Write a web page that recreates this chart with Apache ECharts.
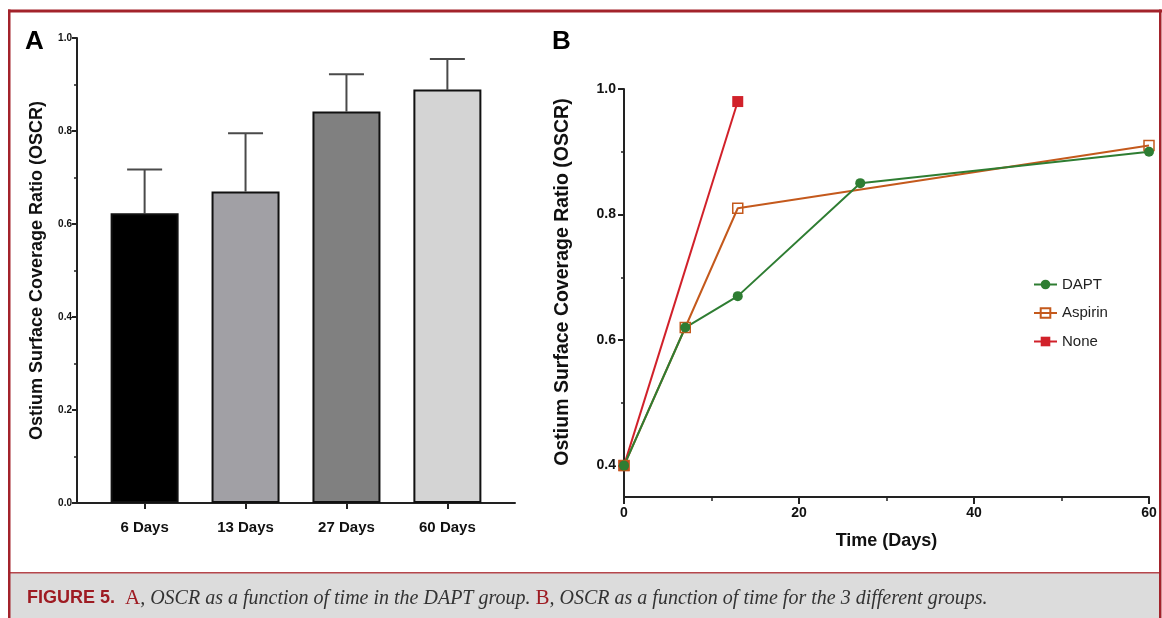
<!DOCTYPE html>
<html><head><meta charset="utf-8">
<script src="https://cdn.jsdelivr.net/npm/echarts@6/dist/echarts.min.js"></script>
<style>html,body{margin:0;padding:0;background:#fff}#c{width:1162px;height:618px}</style>
</head><body><div id="c"></div>
<script>
// ---- Panel A data ----
const categoriesA = ['6 Days', '13 Days', '27 Days', '60 Days'];
const meanA = [0.623, 0.670, 0.842, 0.889];
const upperA = [0.717, 0.795, 0.922, 0.955];
const barColorsA = ['#000000', '#a1a0a5', '#808080', '#d4d4d4'];
// ---- Panel B data ----
const daysDAPT = [0, 7, 13, 27, 60];
const oscrDAPT = [0.40, 0.62, 0.67, 0.85, 0.90];
const daysAspirin = [0, 7, 13, 60];
const oscrAspirin = [0.40, 0.62, 0.81, 0.91];
const daysNone = [0, 13];
const oscrNone = [0.40, 0.98];
const yLabelsB = [0.4, 0.6, 0.8, 1.0];
const yMinorB = [0.5, 0.7, 0.9];
const yNameText = 'Ostium Surface Coverage Ratio (OSCR)';
const captionParts = ['FIGURE 5.', 'A', ', OSCR as a function of time in the DAPT group. ', 'B', ', OSCR as a function of time for the 3 different groups.'];

const FONT = "'Liberation Sans', Arial, sans-serif";
const pairs = (xs, ys) => xs.map((x, i) => [x, ys[i]]);

const chart = echarts.init(document.getElementById('c'), null, {renderer: 'canvas'});
const axisLine = {show: true, onZero: false, lineStyle: {color: '#222', width: 2}};
const option = {
  animation: false,
  backgroundColor: '#fff',
  title: {
    text: '{f|' + captionParts[0] + '}  {r|' + captionParts[1] + '}{i|' + captionParts[2] + '}{r|' + captionParts[3] + '}{i|' + captionParts[4] + '}',
    left: 22, top: 583,
    textStyle: {
      fontWeight: 'normal',
      rich: {
        f: {fontFamily: FONT, fontWeight: 'bold', fontSize: 18, color: '#9e1b22'},
        r: {fontFamily: "'Liberation Serif', serif", fontWeight: 'normal', fontSize: 21, color: '#9e1b22'},
        i: {fontFamily: "'Liberation Serif', serif", fontWeight: 'normal', fontStyle: 'italic', fontSize: 20, color: '#333'}
      }
    }
  },
  graphic: [
    {type: 'rect', shape: {x: 10, y: 573, width: 1150, height: 45}, style: {fill: '#dcdcdc'}, z: -10},
    {type: 'rect', shape: {x: 10, y: 572, width: 1150, height: 1.5}, style: {fill: '#b5474c'}, z: -5},
    {type: 'rect', shape: {x: 8, y: 9.5, width: 1154, height: 3}, style: {fill: '#a3232b'}, z: -5},
    {type: 'rect', shape: {x: 8, y: 9.5, width: 2.5, height: 609}, style: {fill: '#a3232b'}, z: -5},
    {type: 'rect', shape: {x: 1159, y: 9.5, width: 2.5, height: 609}, style: {fill: '#a3232b'}, z: -5},
    {type: 'text', left: 25, top: 29, style: {text: 'A', font: "bold 26px 'Liberation Sans', Arial", fill: '#000'}},
    {type: 'text', left: 552, top: 29, style: {text: 'B', font: "bold 26px 'Liberation Sans', Arial", fill: '#000'}}
  ],
  legend: {
    data: ['DAPT', 'Aspirin', 'None'],
    orient: 'vertical', left: 1028, top: 272,
    itemWidth: 23, itemHeight: 12, itemGap: 13.5,
    textStyle: {fontFamily: FONT, fontSize: 15, color: '#222'}
  },
  grid: [
    {left: 77, right: 647, top: 38, bottom: 115, containLabel: false},
    {left: 624, right: 13, top: 89, bottom: 121, containLabel: false}
  ],
  xAxis: [
    {
      gridIndex: 0, type: 'value', min: -0.67, max: 3.67,
      axisLine: axisLine,
      axisTick: {show: true, customValues: [0, 1, 2, 3], length: 6, lineStyle: {color: '#222', width: 2}},
      axisLabel: {customValues: [0, 1, 2, 3], formatter: v => categoriesA[Math.round(v)], fontFamily: FONT, fontWeight: 'bold', fontSize: 15, color: '#111', margin: 17},
      splitLine: {show: false}
    },
    {
      gridIndex: 1, type: 'value', min: 0, max: 60, interval: 20,
      axisLine: axisLine,
      axisTick: {show: true, length: 7, lineStyle: {color: '#222', width: 2}},
      minorTick: {show: true, splitNumber: 2, length: 4, lineStyle: {color: '#222', width: 1.5}},
      axisLabel: {fontFamily: FONT, fontWeight: 'bold', fontSize: 14, color: '#111', margin: 9},
      splitLine: {show: false},
      name: 'Time (Days)', nameLocation: 'middle', nameGap: 35,
      nameTextStyle: {fontFamily: FONT, fontWeight: 'bold', fontSize: 18, color: '#111'}
    }
  ],
  yAxis: [
    {
      gridIndex: 0, type: 'value', min: 0, max: 1, interval: 0.2, position: 'left',
      axisLine: axisLine,
      axisTick: {show: true, length: 5, lineStyle: {color: '#222', width: 2}},
      minorTick: {show: true, splitNumber: 2, length: 3, lineStyle: {color: '#222', width: 1.5}},
      axisLabel: {formatter: v => v.toFixed(1), fontFamily: FONT, fontWeight: 'bold', fontSize: 10, color: '#111', margin: 5},
      splitLine: {show: false},
      name: yNameText, nameLocation: 'middle', nameGap: 31,
      nameTextStyle: {fontFamily: FONT, fontWeight: 'bold', fontSize: 18, color: '#111'}
    },
    {
      gridIndex: 1, type: 'value', min: 0.35, max: 1.0, position: 'left',
      axisLine: axisLine,
      axisTick: {show: true, customValues: yLabelsB, length: 6, lineStyle: {color: '#222', width: 2}},
      axisLabel: {customValues: yLabelsB, formatter: v => v.toFixed(1), fontFamily: FONT, fontWeight: 'bold', fontSize: 14, color: '#111', margin: 8},
      splitLine: {show: false},
      name: yNameText, nameLocation: 'middle', nameGap: 51,
      nameTextStyle: {fontFamily: FONT, fontWeight: 'bold', fontSize: 19.5, color: '#111', padding: [0, 0, 0, 22]}
    },
    {
      gridIndex: 1, type: 'value', min: 0.35, max: 1.0, position: 'left', offset: 0,
      axisLine: {show: false, onZero: false},
      axisTick: {show: true, customValues: yMinorB, length: 3, lineStyle: {color: '#222', width: 1.5}},
      axisLabel: {show: false, customValues: yMinorB},
      splitLine: {show: false}
    }
  ],
  series: [
    {
      type: 'bar', xAxisIndex: 0, yAxisIndex: 0, barWidth: 68,
      data: categoriesA.map((c, i) => ({value: [i, meanA[i]], itemStyle: {color: barColorsA[i]}})),
      itemStyle: {borderColor: '#111', borderWidth: 2}, z: 2
    },
    {
      type: 'custom', xAxisIndex: 0, yAxisIndex: 0, z: 1,
      data: categoriesA.map((c, i) => [i, meanA[i], upperA[i]]),
      renderItem: (params, api) => {
        const p1 = api.coord([api.value(0), api.value(1)]);
        const p2 = api.coord([api.value(0), api.value(2)]);
        const hw = 17.5, st = {stroke: '#4a4a4a', lineWidth: 2};
        return {type: 'group', children: [
          {type: 'line', shape: {x1: p1[0], y1: p1[1], x2: p2[0], y2: p2[1]}, style: st},
          {type: 'line', shape: {x1: p2[0] - hw, y1: p2[1], x2: p2[0] + hw, y2: p2[1]}, style: st}
        ]};
      }
    },
    {
      name: 'None', type: 'line', xAxisIndex: 1, yAxisIndex: 1,
      data: pairs(daysNone, oscrNone),
      symbol: 'rect', symbolSize: 11,
      lineStyle: {color: '#d1212a', width: 2},
      itemStyle: {color: '#d1212a'}
    },
    {
      name: 'Aspirin', type: 'line', xAxisIndex: 1, yAxisIndex: 1,
      data: pairs(daysAspirin, oscrAspirin),
      symbol: 'rect', symbolSize: 10,
      lineStyle: {color: '#c4591c', width: 2},
      itemStyle: {color: 'rgba(255,255,255,0)', borderColor: '#c4591c', borderWidth: 1.5}
    },
    {
      name: 'DAPT', type: 'line', xAxisIndex: 1, yAxisIndex: 1,
      data: pairs(daysDAPT, oscrDAPT),
      symbol: 'circle', symbolSize: 10,
      lineStyle: {color: '#2e7d32', width: 2},
      itemStyle: {color: '#2e7d32'}
    }
  ]
};
chart.setOption(option);
</script>
</body></html>
